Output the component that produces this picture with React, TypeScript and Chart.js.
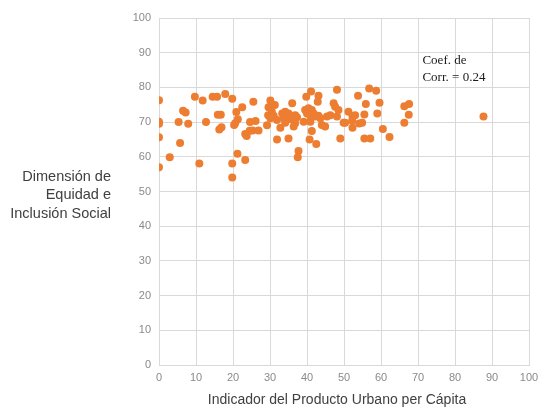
import React, { useEffect, useRef } from "react";
import { Chart, registerables } from "chart.js";

Chart.register(...registerables);

const xValues: number[] = [
  0, 0, 0, 0, 0, 2.9, 5.7, 5.3, 6.5, 7.2, 7.9, 9.7, 11.8, 10.9, 12.7, 14.5, 15.7, 15.9, 16.7, 16.9,
  16.3, 17.9, 19.8, 20.9, 21.3, 20.6, 20.3, 22.5, 25.5, 24.6, 26.1, 23.3, 23.7, 24.5, 25.3, 26.9,
  21.2, 19.8, 23.3, 19.8, 29.2, 30.1, 29.6, 31.3, 29.5, 30.5, 31.0, 31.9, 30.1, 31.9, 32.8, 35.0,
  37.7, 37.5, 40.7, 42.5, 41.3, 49.0, 41.1, 39.8, 43.1, 42.9, 48.1, 36.0, 33.3, 34.1, 35.0, 34.6,
  33.7, 35.5, 36.8, 37.3, 36.8, 36.4, 34.1, 39.1, 40.9, 39.5, 40.4, 41.3, 41.8, 40.0, 40.9, 42.2,
  43.1, 43.6, 44.0, 44.9, 45.4, 46.3, 47.2, 47.6, 48.5, 48.1, 49.9, 51.2, 56.8, 58.7, 53.8, 55.9,
  59.6, 53.0, 52.3, 52.2, 54.1, 54.9, 55.5, 59.0, 50.3, 52.3, 55.5, 57.1, 60.5, 62.3, 66.3, 67.6,
  67.5, 66.3, 87.7,
];

const yValues: number[] = [
  57.0, 76.3, 70.1, 69.5, 65.6, 59.9, 64.0, 70.0, 73.3, 72.8, 69.5, 77.3, 76.2, 58.1, 70.0, 77.3,
  77.3, 72.1, 72.1, 68.5, 67.9, 78.1, 76.7, 72.9, 70.8, 69.7, 69.2, 74.3, 75.9, 70.0, 70.3, 66.6,
  66.0, 67.5, 67.6, 67.6, 60.9, 58.1, 59.1, 54.0, 69.1, 76.2, 74.3, 74.9, 72.0, 73.0, 71.8, 70.6,
  71.1, 65.0, 68.4, 65.3, 61.7, 59.9, 65.0, 63.7, 67.4, 65.3, 78.8, 77.3, 77.6, 75.9, 79.3, 75.4,
  72.5, 73.0, 72.5, 71.6, 71.1, 70.8, 72.0, 71.4, 69.7, 68.7, 69.8, 70.1, 70.1, 73.5, 74.0, 73.5,
  72.5, 72.5, 71.8, 71.6, 71.8, 71.1, 69.2, 68.7, 71.6, 72.0, 75.4, 74.4, 73.5, 71.6, 69.8, 73.0,
  79.7, 79.0, 77.6, 75.2, 75.6, 72.0, 71.6, 70.4, 69.6, 69.8, 72.2, 72.5, 69.8, 68.4, 65.3, 65.3,
  68.0, 65.7, 74.6, 75.2, 72.1, 69.8, 71.6,
];

const xTitle = "Indicador del Producto Urbano per Cápita";
const yTitleLines = ["Dimensión de", "Equidad e", "Inclusión Social"];
const noteLines = ["Coef. de", "Corr. = 0.24"];
const noteAt = { x: 71.2, y: 87.6 };

export default function App() {
  const ref = useRef<HTMLCanvasElement | null>(null);

  useEffect(() => {
    document.body.style.margin = "0";
    const canvas = ref.current;
    if (!canvas) return;

    const textPlugin = {
      id: "texts",
      afterDraw(chart: any) {
        const ctx = chart.ctx;
        const xs = chart.scales.x;
        const ys = chart.scales.y;
        ctx.save();
        ctx.fillStyle = "#404040";
        ctx.font = "14px 'Liberation Sans', Arial, sans-serif";
        ctx.textAlign = "center";
        ctx.textBaseline = "middle";
        ctx.fillText(xTitle, 337, 400);
        ctx.font = "14.5px 'Liberation Sans', Arial, sans-serif";
        ctx.textAlign = "right";
        const yc = 195;
        yTitleLines.forEach((l, i) => {
          ctx.fillText(l, 111, yc + (i - 1) * 18.5);
        });
        ctx.fillStyle = "#1a1a1a";
        ctx.font = "13px 'Liberation Serif', 'DejaVu Serif', serif";
        ctx.textAlign = "left";
        const px = xs.getPixelForValue(noteAt.x);
        const py = ys.getPixelForValue(noteAt.y);
        noteLines.forEach((l, i) => {
          ctx.fillText(l, px, py + i * 17);
        });
        ctx.restore();
      },
    };

    const chart = new Chart(canvas, {
      type: "scatter",
      data: {
        datasets: [
          {
            data: xValues.map((x, i) => ({ x, y: yValues[i] })),
            backgroundColor: "#ED7D31",
            borderColor: "#ED7D31",
            pointRadius: 4,
            pointHoverRadius: 4,
            borderWidth: 0,
          },
        ],
      },
      options: {
        responsive: false,
        animation: false,
        layout: { padding: { top: 18, right: 0, left: 0, bottom: 0 } },
        plugins: { legend: { display: false }, tooltip: { enabled: false } },
        scales: {
          x: {
            type: "linear",
            min: 0,
            max: 100,
            ticks: {
              stepSize: 10,
              color: "#8a8a8a",
              font: { size: 11, family: "'Liberation Sans', Arial, sans-serif" },
              padding: 6,
            },
            grid: { color: "#d9d9d9", drawTicks: false, lineWidth: 1 },
            border: { color: "#d9d9d9" },
            afterFit(scale: any) {
              scale.height = 42;
              scale.paddingRight = 12;
              scale.paddingLeft = 0;
            },
          },
          y: {
            type: "linear",
            min: 0,
            max: 100,
            ticks: {
              stepSize: 10,
              color: "#8a8a8a",
              font: { size: 11, family: "'Liberation Sans', Arial, sans-serif" },
              padding: 8,
            },
            grid: { color: "#d9d9d9", drawTicks: false, lineWidth: 1 },
            border: { color: "#d9d9d9" },
            afterFit(scale: any) {
              scale.width = 159;
            },
          },
        },
      },
      plugins: [textPlugin],
    } as any);

    return () => chart.destroy();
  }, []);

  return (
    <div style={{ width: 541, height: 407, background: "#fff" }}>
      <canvas ref={ref} width={541} height={407} style={{ display: "block" }} />
    </div>
  );
}
